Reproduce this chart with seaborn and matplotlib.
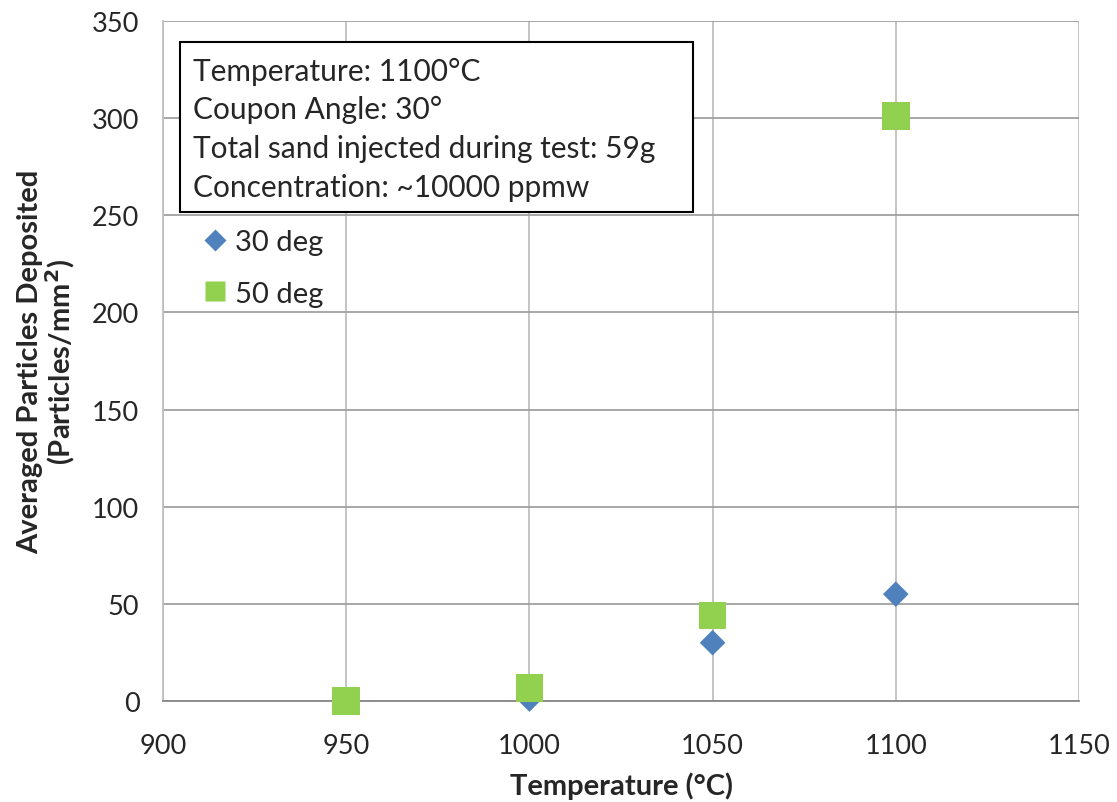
import matplotlib
matplotlib.use("Agg")
import matplotlib.pyplot as plt
import seaborn as sns
import pandas as pd
from matplotlib.lines import Line2D
from matplotlib.patches import Rectangle

# Data
temps_30 = [1000, 1050, 1100]
vals_30 = [1, 30, 55]
temps_50 = [950, 1000, 1050, 1100]
vals_50 = [0, 6.5, 44, 301]
series_names = ["30 deg", "50 deg"]
info_lines = ["Temperature: 1100°C", "Coupon Angle: 30°",
              "Total sand injected during test: 59g", "Concentration: ~10000 ppmw"]
x_ticks = [900, 950, 1000, 1050, 1100, 1150]
y_ticks = [0, 50, 100, 150, 200, 250, 300, 350]

df30 = pd.DataFrame({"T": temps_30, "P": vals_30})
df50 = pd.DataFrame({"T": temps_50, "P": vals_50})

sns.set_style("white")
plt.rcParams["font.family"] = ["Lato", "DejaVu Sans"]

BLUE = "#4F81BD"
GREEN = "#92D050"

W, H = 1117, 803
L, R, T, B = 163, 1079, 22, 702
fig = plt.figure(figsize=(W / 100, H / 100), dpi=100)
ax = fig.add_axes([L / W, 1 - B / H, (R - L) / W, (B - T) / H])


def axc(px, py):
    return (px - L) / (R - L), (B - py) / (B - T)


sns.scatterplot(data=df30, x="T", y="P", ax=ax, marker="D", s=170, color=BLUE,
                edgecolor="none", zorder=3, clip_on=False)
sns.scatterplot(data=df50, x="T", y="P", ax=ax, marker="s", s=400, color=GREEN,
                edgecolor="none", zorder=4, clip_on=False)

ax.set_xlim(900, 1150)
ax.set_ylim(0, 350)
ax.set_xticks(x_ticks)
ax.set_yticks(y_ticks)
ax.grid(True, axis="x", color="#BFBFBF", linewidth=1.3)
ax.grid(True, axis="y", color="#A0A0A0", linewidth=1.3)
ax.set_axisbelow(True)
for s in ["top", "right"]:
    ax.spines[s].set_visible(False)
ax.spines["left"].set_color("#BFBFBF")
ax.spines["left"].set_linewidth(1.3)
ax.spines["bottom"].set_color("#888888")
ax.spines["bottom"].set_linewidth(1.3)
ax.tick_params(axis="both", direction="out", length=7, width=1.2, color="#999999",
               labelsize=19.5, pad=10)
ax.tick_params(axis="x", pad=16)

ax.set_xlabel("Temperature (°C)", fontsize=21, fontweight="bold")
ax.xaxis.set_label_coords(*axc((L + R) / 2, 772))
ax.set_ylabel("Averaged Particles Deposited\n(Particles/mm$^\\mathbf{2}$)", fontsize=21,
              fontweight="bold", linespacing=1.0)
ax.yaxis.set_label_coords(*axc(77, (T + B) / 2))

# Info box
x0, y0 = axc(180, 213)
x1, y1 = axc(693, 43)
ax.add_patch(Rectangle((x0, y0), x1 - x0, y1 - y0, transform=ax.transAxes,
                       facecolor="white", edgecolor="black", linewidth=1.5, zorder=6))
for line, base in zip(info_lines, [81, 119, 158, 197]):
    tx, ty = axc(193, base)
    ax.text(tx, ty, line, transform=ax.transAxes, fontsize=21.5, va="baseline",
            ha="left", zorder=7)

handles = [
    Line2D([], [], marker="D", color=BLUE, linestyle="none", markersize=11, markeredgecolor="none"),
    Line2D([], [], marker="s", color=GREEN, linestyle="none", markersize=15, markeredgecolor="none"),
]
lx, ly = axc(200, 230)
ax.legend(handles, series_names, loc="upper left", bbox_to_anchor=(lx, ly),
          frameon=False, fontsize=21, handletextpad=0.2, labelspacing=0.88,
          handlelength=1.0, borderaxespad=0, borderpad=0)

fig.savefig("out.png", dpi=100)
